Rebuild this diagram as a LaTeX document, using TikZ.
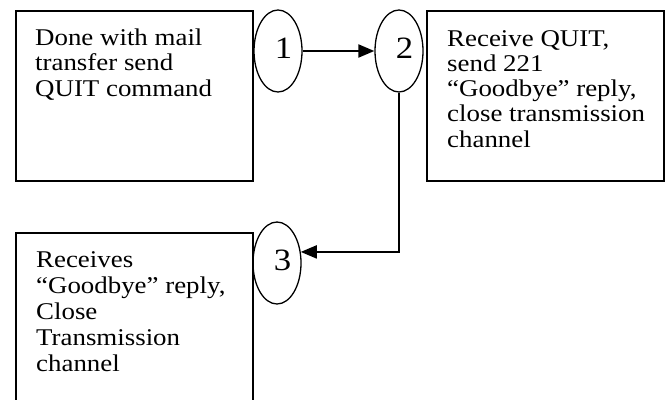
\documentclass[tikz,border=0pt]{standalone}
\usepackage{fontspec}
\setmainfont{Liberation Serif}[FakeStretch=1.12]
\usetikzlibrary{shapes.geometric,arrows.meta}
\begin{document}
\begin{tikzpicture}[x=1pt,y=-1pt,
  box/.style={draw,line width=1.6pt,rectangle,inner sep=0pt,anchor=north west},
  txt/.style={inner sep=0pt,anchor=north west,align=left,font=\fontsize{24}{25.3}\selectfont},
  num/.style={draw,ellipse,line width=1.3pt,minimum width=48pt,minimum height=82pt,inner sep=0pt},
  digit/.style={label={[font=\fontsize{31}{32}\selectfont,inner sep=0pt,xshift=5.5pt,yshift=2.5pt]center:#1}},
  conn/.style={line width=2pt,-{Triangle[length=16pt,width=13pt]}}]
\useasboundingbox (0,0) rectangle (668,399);
\clip (0,0) rectangle (668,399);
\node[box,minimum width=237pt,minimum height=170pt] (b1) at (15,10) {};
\node[box,minimum width=237pt,minimum height=170pt] (b2) at (426,10) {};
\node[box,minimum width=237pt,minimum height=200pt] (b3) at (15,232) {};
\node[txt] (t1) at (35,28.6) {Done with mail\\transfer send\\QUIT command};
\node[txt] (t2) at (447,30) {Receive QUIT,\\send 221\\“Goodbye” reply,\\close transmission\\channel};
\node[txt,font=\fontsize{24}{26}\selectfont] (t3) at (36,251.6) {Receives\\“Goodbye” reply,\\Close\\Transmission\\channel};
\node[num,digit=1] (e1) at (278,51) {};
\node[num,digit=2] (e2) at (399,51) {};
\node[num,digit=3] (e3) at (277,263) {};
\draw[conn] (e1) -- (e2);
\draw[conn] (e2.south) |- (e3.25);
\end{tikzpicture}
\end{document}
